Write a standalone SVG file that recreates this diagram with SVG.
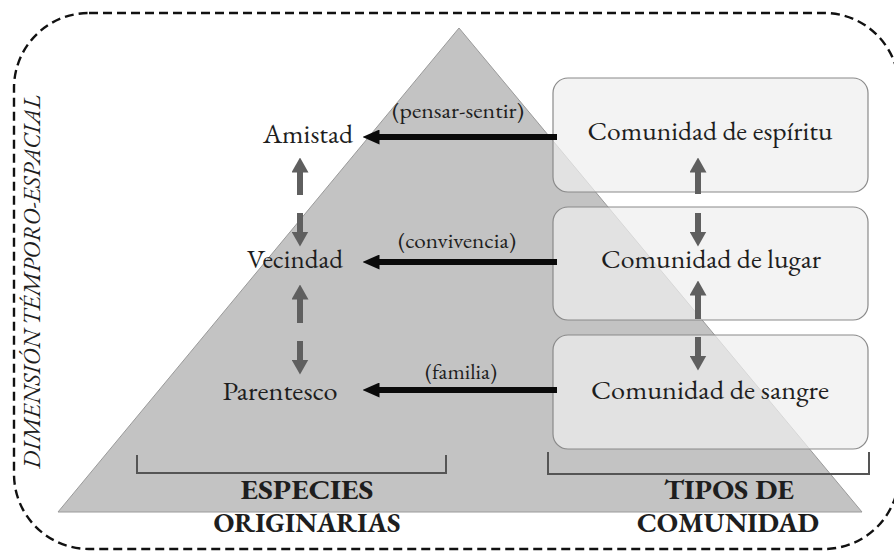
<svg xmlns="http://www.w3.org/2000/svg" width="894" height="552" viewBox="0 0 894 552">
<style>
.t{fill:#1e1e1e;text-anchor:middle}
.box{fill:#eeeeee;fill-opacity:0.72;stroke:#8a8a8a;stroke-width:1.2}
.blk{stroke:#0a0a0a;stroke-width:6;fill:none}
.gry{stroke:#5f5f5f;stroke-width:6;fill:none}
.br{stroke:#555;stroke-width:2;fill:none}
</style>
<defs>
<marker id="mb" markerUnits="userSpaceOnUse" markerWidth="17" markerHeight="15" viewBox="0 0 17 15" refX="0.5" refY="7.5" orient="auto"><path d="M0,0 L17,7.5 L0,15 z" fill="#0a0a0a"/></marker>
<marker id="mg" markerUnits="userSpaceOnUse" markerWidth="15" markerHeight="17" viewBox="0 0 15 17" refX="0.5" refY="8.5" orient="auto"><path d="M0,0 L15,8.5 L0,17 z" fill="#5f5f5f"/></marker>
</defs>
<rect width="894" height="552" fill="#ffffff"/>
<rect x="14" y="13" width="885" height="536" rx="75" ry="75" fill="none" stroke="#111" stroke-width="2.4" stroke-dasharray="9 5"/>
<text class="t" transform="translate(40,282) rotate(-90)" font-family="EB Garamond, Liberation Serif, serif" font-size="24" font-style="italic" textLength="374" lengthAdjust="spacingAndGlyphs">DIMENSIÓN TÉMPORO-ESPACIAL</text>
<polygon id="piramide" points="459,28 58,512 862,512" fill="#c3c3c3" stroke="#9a9a9a" stroke-width="1"/>
<g id="brackets">
<path class="br" d="M137,455 V473 H446 V455"/>
<path class="br" d="M548,452 V474 H869 V452"/>
</g>
<g id="categorias" font-family="EB Garamond, Liberation Serif, serif" font-size="27" font-weight="bold">
<text class="t" x="307" y="499" font-family="EB Garamond, Liberation Serif, serif" textLength="133" lengthAdjust="spacingAndGlyphs">ESPECIES</text>
<text class="t" x="307" y="532" font-family="EB Garamond, Liberation Serif, serif" textLength="187" lengthAdjust="spacingAndGlyphs">ORIGINARIAS</text>
<text class="t" x="729" y="499" font-family="EB Garamond, Liberation Serif, serif" textLength="130" lengthAdjust="spacingAndGlyphs">TIPOS DE</text>
<text class="t" x="728" y="532" font-family="EB Garamond, Liberation Serif, serif" textLength="182" lengthAdjust="spacingAndGlyphs">COMUNIDAD</text>
</g>
<g id="amistad"><text class="t" x="308" y="143" font-family="EB Garamond, Liberation Serif, serif" font-size="26" textLength="90" lengthAdjust="spacingAndGlyphs">Amistad</text></g>
<g id="vecindad"><text class="t" x="295" y="268" font-family="EB Garamond, Liberation Serif, serif" font-size="26" textLength="96" lengthAdjust="spacingAndGlyphs">Vecindad</text></g>
<g id="parentesco"><text class="t" x="280" y="400" font-family="EB Garamond, Liberation Serif, serif" font-size="26" textLength="115" lengthAdjust="spacingAndGlyphs">Parentesco</text></g>
<g id="espiritu"><rect class="box" x="553" y="78" width="315" height="114" rx="15"/><text class="t" x="710" y="140" font-family="EB Garamond, Liberation Serif, serif" font-size="26" textLength="245" lengthAdjust="spacingAndGlyphs">Comunidad de espíritu</text></g>
<g id="lugar"><rect class="box" x="553" y="207" width="315" height="113" rx="15"/><text class="t" x="711" y="268" font-family="EB Garamond, Liberation Serif, serif" font-size="26" textLength="220" lengthAdjust="spacingAndGlyphs">Comunidad de lugar</text></g>
<g id="sangre"><rect class="box" x="553" y="335" width="315" height="114" rx="15"/><text class="t" x="710" y="399" font-family="EB Garamond, Liberation Serif, serif" font-size="26" textLength="238" lengthAdjust="spacingAndGlyphs">Comunidad de sangre</text></g>
<g id="connectors">
<line class="blk" x1="557" y1="137" x2="379" y2="137" marker-end="url(#mb)"/>
<line class="blk" x1="557" y1="262" x2="379" y2="262" marker-end="url(#mb)"/>
<line class="blk" x1="557" y1="390" x2="379" y2="390" marker-end="url(#mb)"/>
<text class="t" x="458" y="118" font-family="EB Garamond, Liberation Serif, serif" font-size="21" textLength="132" lengthAdjust="spacingAndGlyphs">(pensar-sentir)</text>
<text class="t" x="457" y="248" font-family="EB Garamond, Liberation Serif, serif" font-size="21" textLength="118" lengthAdjust="spacingAndGlyphs">(convivencia)</text>
<text class="t" x="461" y="379" font-family="EB Garamond, Liberation Serif, serif" font-size="21" textLength="72" lengthAdjust="spacingAndGlyphs">(familia)</text>
<line class="gry" x1="300" y1="195" x2="300" y2="172" marker-end="url(#mg)"/>
<line class="gry" x1="300" y1="213" x2="300" y2="232" marker-end="url(#mg)"/>
<line class="gry" x1="300" y1="323" x2="300" y2="299" marker-end="url(#mg)"/>
<line class="gry" x1="300" y1="341" x2="300" y2="360" marker-end="url(#mg)"/>
<line class="gry" x1="698" y1="194" x2="698" y2="172" marker-end="url(#mg)"/>
<line class="gry" x1="698" y1="213" x2="698" y2="232" marker-end="url(#mg)"/>
<line class="gry" x1="698" y1="319" x2="698" y2="295" marker-end="url(#mg)"/>
<line class="gry" x1="698" y1="337" x2="698" y2="356" marker-end="url(#mg)"/>
</g>
</svg>
